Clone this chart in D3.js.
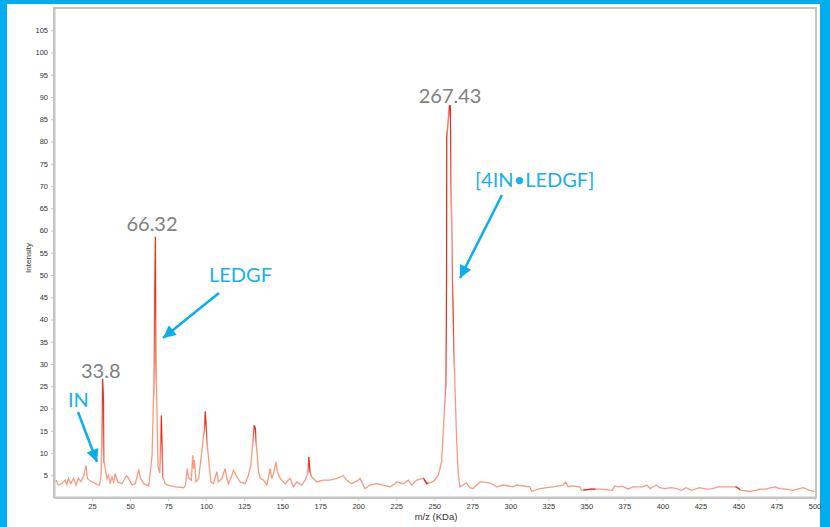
<html>
<head>
<meta charset="utf-8">
<style>
  body { margin: 0; background: #ffffff; }
  .axis path, .axis line { stroke: #c4c4c4; }
  .axis path { stroke-width: 2px; }
  .axis text { font-family: "Liberation Sans", Arial, sans-serif; font-size: 7.5px; fill: #333; }
  .label { font-family: "Liberation Sans", Arial, sans-serif; fill: #333; }
  .peak { font-family: Lato, "Open Sans", sans-serif; font-size: 20px; fill: #808080; }
  .note { font-family: Lato, "Open Sans", sans-serif; font-size: 20px; fill: #1ab0ea; }
</style>
<script src="https://d3js.org/d3.v7.min.js"></script>
</head>
<body>
<svg width="830" height="527"></svg>
<script>
// spectrum: m/z (kDa) and intensity
var mz = [1.3, 2.8, 5.1, 7.3, 8.4, 9.5, 11, 12.8, 14.5, 16, 17.6, 19.4, 21.1, 22, 23.8, 26, 28.2, 29.9,
  31, 31.9, 32.6, 33, 33.9, 34.8, 35.9, 37, 38.1, 39.2, 40.3, 41.8, 44.7, 47.6, 49.1, 51.3, 53.5, 55.7,
  56.8, 59, 62.3, 64.5, 65.6, 66.2, 66.7, 67.2, 67.8, 68.4, 69.5, 70.5, 71.1, 71.6, 73, 74.4, 80, 85.4,
  86.5, 87.6, 88.7, 90.3, 91.2, 91.8, 92.3, 93.4, 95.1, 97.3, 98.8, 99.4, 100.1, 101, 102.3, 103.2,
  104.8, 107.1, 108.1, 110.4, 112.5, 113.7, 114.7, 117, 118, 120.3, 122.4, 125.7, 127.8, 129.4, 130.5,
  131.6, 132.5, 133.4, 134.5, 135.6, 137.8, 139.9, 141, 142.1, 143.2, 144.7, 145.9, 146.9, 148.7, 152,
  155.2, 157.4, 159.6, 162.9, 165.1, 166.8, 167.5, 168.4, 169.5, 172.8, 177.1, 181.5, 186, 190.3, 192.4,
  195.7, 200.1, 201.2, 204.5, 207.8, 212.1, 216.5, 220.9, 224.2, 225.3, 229.6, 232.9, 235.2, 238.5,
  242.9, 245.1, 249.5, 252.7, 254.8, 256.3, 257.5, 258.1, 258.3, 259.9, 260.6, 261.4, 261.9, 262.4,
  263.6, 264.7, 265.7, 266.8, 269, 271.2, 273.4, 275.6, 280, 284.4, 287.7, 290.9, 295.3, 301.8, 304.1,
  312.8, 313.9, 319.4, 328.1, 334.7, 336.5, 338, 340.2, 345.7, 346.8, 353.3, 358.8, 367.1, 368.6, 370.8,
  374.1, 377.3, 380.6, 387.2, 389.8, 392, 396, 398.2, 401.4, 405.8, 409.5, 412.4, 415.7, 419, 424.4,
  428.8, 433.2, 436.4, 448.5, 451.8, 457.3, 461.7, 463.8, 468.2, 471.5, 474.3, 477, 481.4, 485.7, 490.1,
  492.7, 496.7, 499.9];
var intensity = [3.9, 2.8, 3.1, 3.9, 2.9, 4.3, 3.1, 4.3, 2.8, 4.3, 3.6, 4.7, 7.2, 4.3, 3.7, 3.4, 2.9, 2.8,
  5, 26.6, 21.4, 8, 6.1, 4.3, 5, 3.1, 4.6, 3.5, 5.4, 3.5, 3.1, 4.9, 4.3, 2.8, 3.1, 6.3,
  4.3, 3.1, 2.6, 9.5, 25, 47, 58.6, 30, 17, 7, 5.5, 18.4, 12, 4.5, 3.2, 2.8, 2.4, 2.2,
  2.8, 6.5, 4.3, 3.9, 9.5, 6.5, 8.4, 3.5, 4.3, 10.6, 15.4, 19.3, 15.8, 11, 6.5, 3.5,
  3.1, 5.8, 3.5, 4.3, 6.5, 4.3, 3.1, 5, 6.1, 4.6, 3.5, 3.1, 5, 7.2, 11.7,
  16.2, 15.4, 10.2, 5.8, 4.3, 3.9, 2.8, 4.6, 6.5, 4.3, 5.8, 8, 5.8, 4.3, 3.1,
  4.3, 2.4, 3.5, 2.8, 3.9, 5.4, 9.1, 5.8, 4.6, 3.5, 3.9, 3.9, 4.3, 4.9, 3.9,
  3.1, 3.9, 4.3, 2, 2.8, 3.1, 2.8, 2.4, 3.1, 3.5, 3.1, 3.9, 2.8, 3.9,
  4.3, 3.1, 3.6, 5, 8, 17, 25.1, 49, 80.8, 88, 88, 63, 49, 41.9,
  25.1, 13.2, 5.8, 2.4, 2.8, 3.3, 2.2, 2, 3.5, 3.4, 3.1, 2.4, 2.8, 2.4, 2.8,
  2.4, 1.4, 2, 2.4, 2.8, 3.5, 2.4, 2.6, 2.4, 1.6, 1.9, 1.9, 1.6, 2.6, 2.4,
  2.5, 1.9, 2.4, 2.4, 2.8, 2, 2.8, 2.2, 2, 2.2, 2, 1.6, 2.2, 1.6, 2.2,
  1.9, 2, 2.4, 2.4, 1.6, 1.4, 1.6, 1.9, 1.9, 2.2, 2.4, 2, 1.9, 1.6, 2,
  2.2, 1.6, 1.4];

// stretches of the trace drawn in the darker red
var redRanges = [[31.6, 32.8], [66.0, 67.0], [70.2, 71.3], [99.0, 100.4], [131.2, 132.8],
  [167.2, 168.6], [257.6, 258.6], [259.5, 261.0], [262.0, 262.8], [243, 246], [348, 356], [448, 451]];

var yTicks = [5, 10, 15, 20, 25, 30, 35, 40, 45, 50, 55, 60, 65, 70, 75, 80, 85, 90, 95, 100, 105];
var xTicks = [25, 50, 75, 100, 125, 150, 175, 200, 225, 250, 275, 300, 325, 350, 375, 400, 425, 450, 475, 500];

var peakLabels = [
  { mz: 32.2, text: "33.8", dx: -22, y: 378 },
  { mz: 66.7, text: "66.32", dx: -29, y: 231 },
  { mz: 260.2, text: "267.43", dx: -31, y: 103 }
];
var notes = [
  { text: "IN", x: 68, y: 407, from: [78, 412], to: [97, 462] },
  { text: "LEDGF", x: 209, y: 282, from: [219, 293], to: [163, 338] },
  { text: "[4IN\u2022LEDGF]", x: 475, y: 187, from: [502, 195], to: [460, 278] }
];

var svg = d3.select("svg");
var plotLeft = 54, plotRight = 816, plotTop = 8, plotBottom = 497.5;

// blue frame
svg.append("rect").attr("x", 0).attr("y", 0).attr("width", 830).attr("height", 527).attr("fill", "#00aeef");
svg.append("rect").attr("x", 7).attr("y", 4).attr("width", 813).attr("height", 523).attr("fill", "#ffffff");

var x = d3.scaleLinear().domain([0, 501]).range([plotLeft, plotRight]);
var y = d3.scaleLinear().domain([0, 110]).range([plotBottom, plotTop]);

// plot border
svg.append("rect")
  .attr("x", plotLeft).attr("y", plotTop).attr("width", plotRight - plotLeft).attr("height", plotBottom - plotTop)
  .attr("fill", "none").attr("stroke", "#c4c4c4").attr("stroke-width", 2);

svg.append("g").attr("class", "axis")
  .attr("transform", "translate(0," + plotBottom + ")")
  .call(d3.axisBottom(x).tickValues(xTicks).tickSize(3).tickPadding(3).tickSizeOuter(0));
svg.append("g").attr("class", "axis")
  .attr("transform", "translate(" + plotLeft + ",0)")
  .call(d3.axisLeft(y).tickValues(yTicks).tickSize(3).tickPadding(3).tickSizeOuter(0));

svg.append("text").attr("class", "label")
  .attr("transform", "translate(31,258) rotate(-90)")
  .attr("text-anchor", "middle").style("font-size", "8px").text("Intensity");
svg.append("text").attr("class", "label")
  .attr("x", 436).attr("y", 520).attr("text-anchor", "middle").style("font-size", "9.5px").text("m/z (KDa)");

// trace
var pts = mz.map(function (m, i) { return [m, intensity[i]]; });
var line = d3.line().x(function (d) { return x(d[0]); }).y(function (d) { return y(d[1]); });

svg.append("path").datum(pts)
  .attr("d", line).attr("fill", "none").attr("stroke", "#f89a80").attr("stroke-width", 1.3);

var defs = svg.append("defs");
redRanges.forEach(function (r, i) {
  defs.append("clipPath").attr("id", "red" + i).append("rect")
    .attr("x", x(r[0])).attr("y", plotTop).attr("width", x(r[1]) - x(r[0])).attr("height", plotBottom - plotTop);
  svg.append("path").datum(pts)
    .attr("d", line).attr("fill", "none").attr("stroke", "#e8281e").attr("stroke-width", 1.3)
    .attr("clip-path", "url(#red" + i + ")");
});

// peak values
svg.selectAll(".peak").data(peakLabels).enter().append("text")
  .attr("class", "peak")
  .attr("x", function (d) { return x(d.mz) + d.dx; })
  .attr("y", function (d) { return d.y; })
  .text(function (d) { return d.text; });

// blue callouts with arrows
defs.append("marker").attr("id", "head")
  .attr("viewBox", "0 0 10 10").attr("refX", 10).attr("refY", 5)
  .attr("markerWidth", 6).attr("markerHeight", 5).attr("markerUnits", "strokeWidth")
  .attr("orient", "auto")
  .append("path").attr("d", "M0,0L10,5L0,10Z").attr("fill", "#0aaeea");

svg.selectAll(".note").data(notes).enter().append("text")
  .attr("class", "note")
  .attr("x", function (d) { return d.x; })
  .attr("y", function (d) { return d.y; })
  .text(function (d) { return d.text; });

svg.selectAll(".arrow").data(notes).enter().append("line")
  .attr("class", "arrow")
  .attr("x1", function (d) { return d.from[0]; }).attr("y1", function (d) { return d.from[1]; })
  .attr("x2", function (d) { return d.to[0]; }).attr("y2", function (d) { return d.to[1]; })
  .attr("stroke", "#0aaeea").attr("stroke-width", 2.5)
  .attr("marker-end", "url(#head)");
</script>
</body>
</html>
